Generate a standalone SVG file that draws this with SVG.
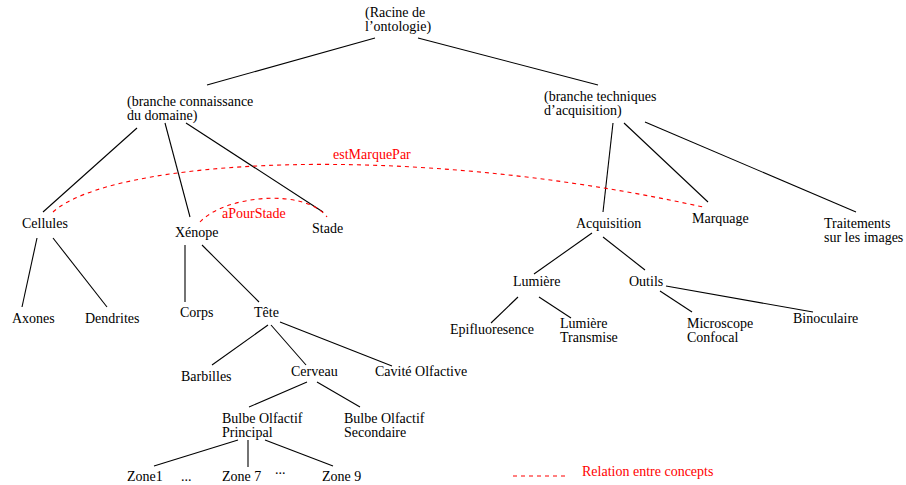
<svg xmlns="http://www.w3.org/2000/svg" width="906" height="485" viewBox="0 0 906 485">
<style>
text{font-family:"Liberation Serif","Times New Roman",serif;font-size:14px;fill:#000}
.rel{fill:#ff0000}
.e{stroke:#000;stroke-width:1.1;fill:none}
.d{stroke:#ff0000;stroke-width:1.1;fill:none;stroke-dasharray:4,4}
</style>
<rect width="906" height="485" fill="#fff"/>
<g id="connectors">
<line class="e" x1="375" y1="38" x2="207" y2="85"/>
<line class="e" x1="418" y1="38" x2="598" y2="85"/>
<line class="e" x1="137" y1="128" x2="43" y2="212"/>
<line class="e" x1="165" y1="123" x2="190" y2="217"/>
<line class="e" x1="186" y1="123" x2="323" y2="212"/>
<line class="e" x1="37" y1="238" x2="22" y2="307"/>
<line class="e" x1="53" y1="238" x2="107" y2="307"/>
<line class="e" x1="185" y1="245" x2="185" y2="302"/>
<line class="e" x1="202" y1="245" x2="259" y2="302"/>
<line class="e" x1="268" y1="325" x2="212" y2="365"/>
<line class="e" x1="271" y1="325" x2="306" y2="365"/>
<line class="e" x1="280" y1="322" x2="392" y2="366"/>
<line class="e" x1="307" y1="382" x2="249" y2="407"/>
<line class="e" x1="317" y1="382" x2="360" y2="407"/>
<line class="e" x1="238" y1="440" x2="154" y2="466"/>
<line class="e" x1="248" y1="440" x2="248" y2="467"/>
<line class="e" x1="265" y1="440" x2="333" y2="466"/>
<line class="e" x1="613" y1="123" x2="603" y2="212"/>
<line class="e" x1="624" y1="123" x2="708" y2="202"/>
<line class="e" x1="645" y1="122" x2="856" y2="212"/>
<line class="e" x1="592" y1="233" x2="534" y2="274"/>
<line class="e" x1="603" y1="237" x2="645" y2="270"/>
<line class="e" x1="518" y1="297" x2="491" y2="323"/>
<line class="e" x1="539" y1="297" x2="571" y2="318"/>
<line class="e" x1="660" y1="291" x2="692" y2="312"/>
<line class="e" x1="666" y1="286" x2="813" y2="312"/>
<path id="estMarquePar" class="d" d="M53,212 C110,160 400,140 703,207"/>
<path id="aPourStade" class="d" d="M200,222 C225,195 305,188 327,217"/>
<text class="rel" x="333" y="159">estMarquePar</text>
<text class="rel" x="222" y="218">aPourStade</text>
</g>
<g id="n-root"><text x="365" y="17">(Racine de</text><text x="365" y="31">l’ontologie)</text></g>
<g id="n-connaissance"><text x="127" y="106">(branche connaissance</text><text x="127" y="120">du domaine)</text></g>
<g id="n-techniques"><text x="544" y="101">(branche techniques</text><text x="544" y="115">d’acquisition)</text></g>
<g id="n-cellules"><text x="22" y="228">Cellules</text></g>
<g id="n-xenope"><text x="175" y="237">Xénope</text></g>
<g id="n-stade"><text x="312" y="233">Stade</text></g>
<g id="n-axones"><text x="12" y="323">Axones</text></g>
<g id="n-dendrites"><text x="85" y="323">Dendrites</text></g>
<g id="n-corps"><text x="180" y="317">Corps</text></g>
<g id="n-tete"><text x="254" y="317">Tête</text></g>
<g id="n-barbilles"><text x="181" y="381">Barbilles</text></g>
<g id="n-cerveau"><text x="291" y="376">Cerveau</text></g>
<g id="n-cavite"><text x="375" y="376">Cavité Olfactive</text></g>
<g id="n-bulbe-p"><text x="222" y="423">Bulbe Olfactif</text><text x="222" y="437">Principal</text></g>
<g id="n-bulbe-s"><text x="344" y="423">Bulbe Olfactif</text><text x="344" y="437">Secondaire</text></g>
<g id="n-zone1"><text x="127" y="481">Zone1</text></g>
<g id="n-dots1"><text x="181" y="481">...</text></g>
<g id="n-zone7"><text x="222" y="481">Zone 7</text></g>
<g id="n-dots2"><text x="275" y="474">...</text></g>
<g id="n-zone9"><text x="322" y="481">Zone 9</text></g>
<g id="n-acquisition"><text x="576" y="228">Acquisition</text></g>
<g id="n-marquage"><text x="692" y="223">Marquage</text></g>
<g id="n-traitements"><text x="824" y="228">Traitements</text><text x="824" y="242">sur les images</text></g>
<g id="n-lumiere"><text x="513" y="286">Lumière</text></g>
<g id="n-outils"><text x="629" y="286">Outils</text></g>
<g id="n-epi"><text x="450" y="334">Epifluoresence</text></g>
<g id="n-lumtrans"><text x="560" y="328">Lumière</text><text x="560" y="342">Transmise</text></g>
<g id="n-micro"><text x="687" y="328">Microscope</text><text x="687" y="342">Confocal</text></g>
<g id="n-bino"><text x="793" y="323">Binoculaire</text></g>
<g id="legend">
<line class="d" x1="513" y1="476" x2="567" y2="476"/>
<text class="rel" x="582" y="476">Relation entre concepts</text>
</g>
</svg>
